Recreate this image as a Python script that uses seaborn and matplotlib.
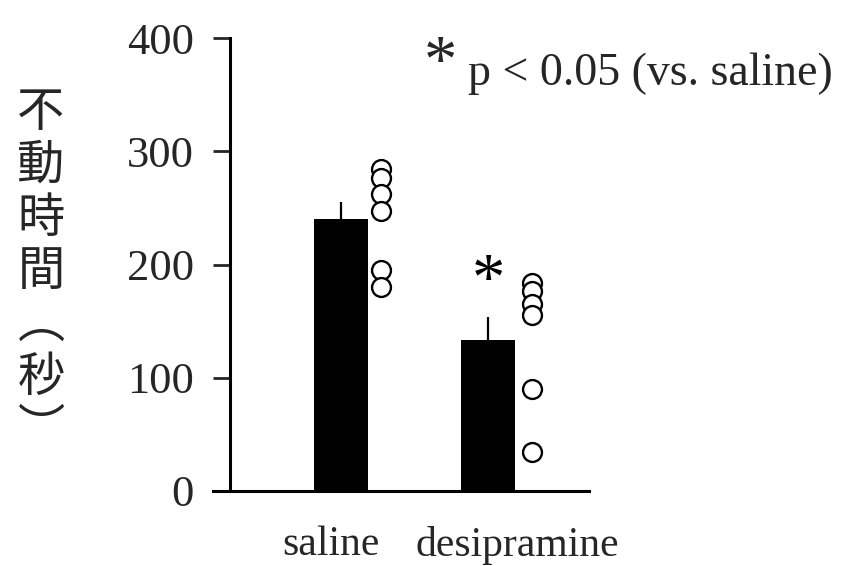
import numpy as np
import pandas as pd
import matplotlib
matplotlib.use("Agg")
import matplotlib.pyplot as plt
import seaborn as sns

# ---- data ----
categories = ["saline", "desipramine"]
means = [240, 133]
sems = [15, 21]
saline_points = [284, 276, 262, 247, 195, 180]
desipramine_points = [184, 177, 165, 155, 90, 34]
y_ticks = [0, 100, 200, 300, 400]
ylabel_chars = ["不", "動", "時", "間", "︵", "秒", "︶"]
legend_text = "p < 0.05 (vs. saline)"
sig_mark = "*"

sns.set_style("white")
plt.rcParams["font.family"] = ["Liberation Serif", "DejaVu Serif"]

fig = plt.figure(figsize=(8.52, 5.66), dpi=100)
ax = fig.add_axes([230 / 852, 1 - 491 / 566, (589 - 230) / 852, (491 - 38) / 566])

df = pd.DataFrame({"group": categories, "value": means})
sns.barplot(data=df, x="group", y="value", color="black", width=0.37,
            errorbar=None, ax=ax, saturation=1, edgecolor="black", linewidth=0)

# error bars (upper only)
for i, (m, s) in enumerate(zip(means, sems)):
    ax.vlines(i, m, m + s, color="black", linewidth=1.6)

# individual points
pts = pd.DataFrame({
    "x": [0.27] * len(saline_points) + [1.30] * len(desipramine_points),
    "y": saline_points + desipramine_points,
})
sns.scatterplot(data=pts, x="x", y="y", ax=ax, s=185, facecolor="white",
                edgecolor="black", linewidth=1.7, zorder=5)

ax.set_xlim(-0.755, 1.687)
ax.set_ylim(0, 400)
ax.set_yticks(y_ticks)
ax.set_yticklabels([str(t) for t in y_ticks], fontsize=32)
ax.set_xticks([-0.07, 1.2])
ax.set_xticklabels(categories, fontsize=30)
ax.tick_params(axis="x", length=0, pad=25)
ax.tick_params(axis="y", length=12, width=2, pad=14, left=True, direction="out")
ax.set_xlabel("")
ax.set_ylabel("")
for side in ["top", "right"]:
    ax.spines[side].set_visible(False)
for side in ["left", "bottom"]:
    ax.spines[side].set_linewidth(2.2)
    ax.spines[side].set_color("black")
ax.spines["bottom"].set_bounds(-0.755 - 17 / 147, 1.687)
ax.spines["bottom"].set_clip_on(False)

# significance asterisk above desipramine
ax.text(1.0, means[1] + sems[1] + 30, sig_mark, ha="center", va="center",
        fontsize=48, color="black")

# legend note
fig.text(440 / 852, 1 - 65 / 566, sig_mark, ha="center", va="center", fontsize=48)
fig.text(468 / 852, 1 - 85 / 566, legend_text, ha="left", va="baseline", fontsize=33)

# vertical y label
fig.text(41 / 852, 1 - 88 / 566, "\n".join(ylabel_chars), ha="center", va="top",
         fontsize=34, linespacing=1.12,
         family=["Noto Sans CJK JP", "DejaVu Sans"])

fig.savefig("out.png", dpi=100)
